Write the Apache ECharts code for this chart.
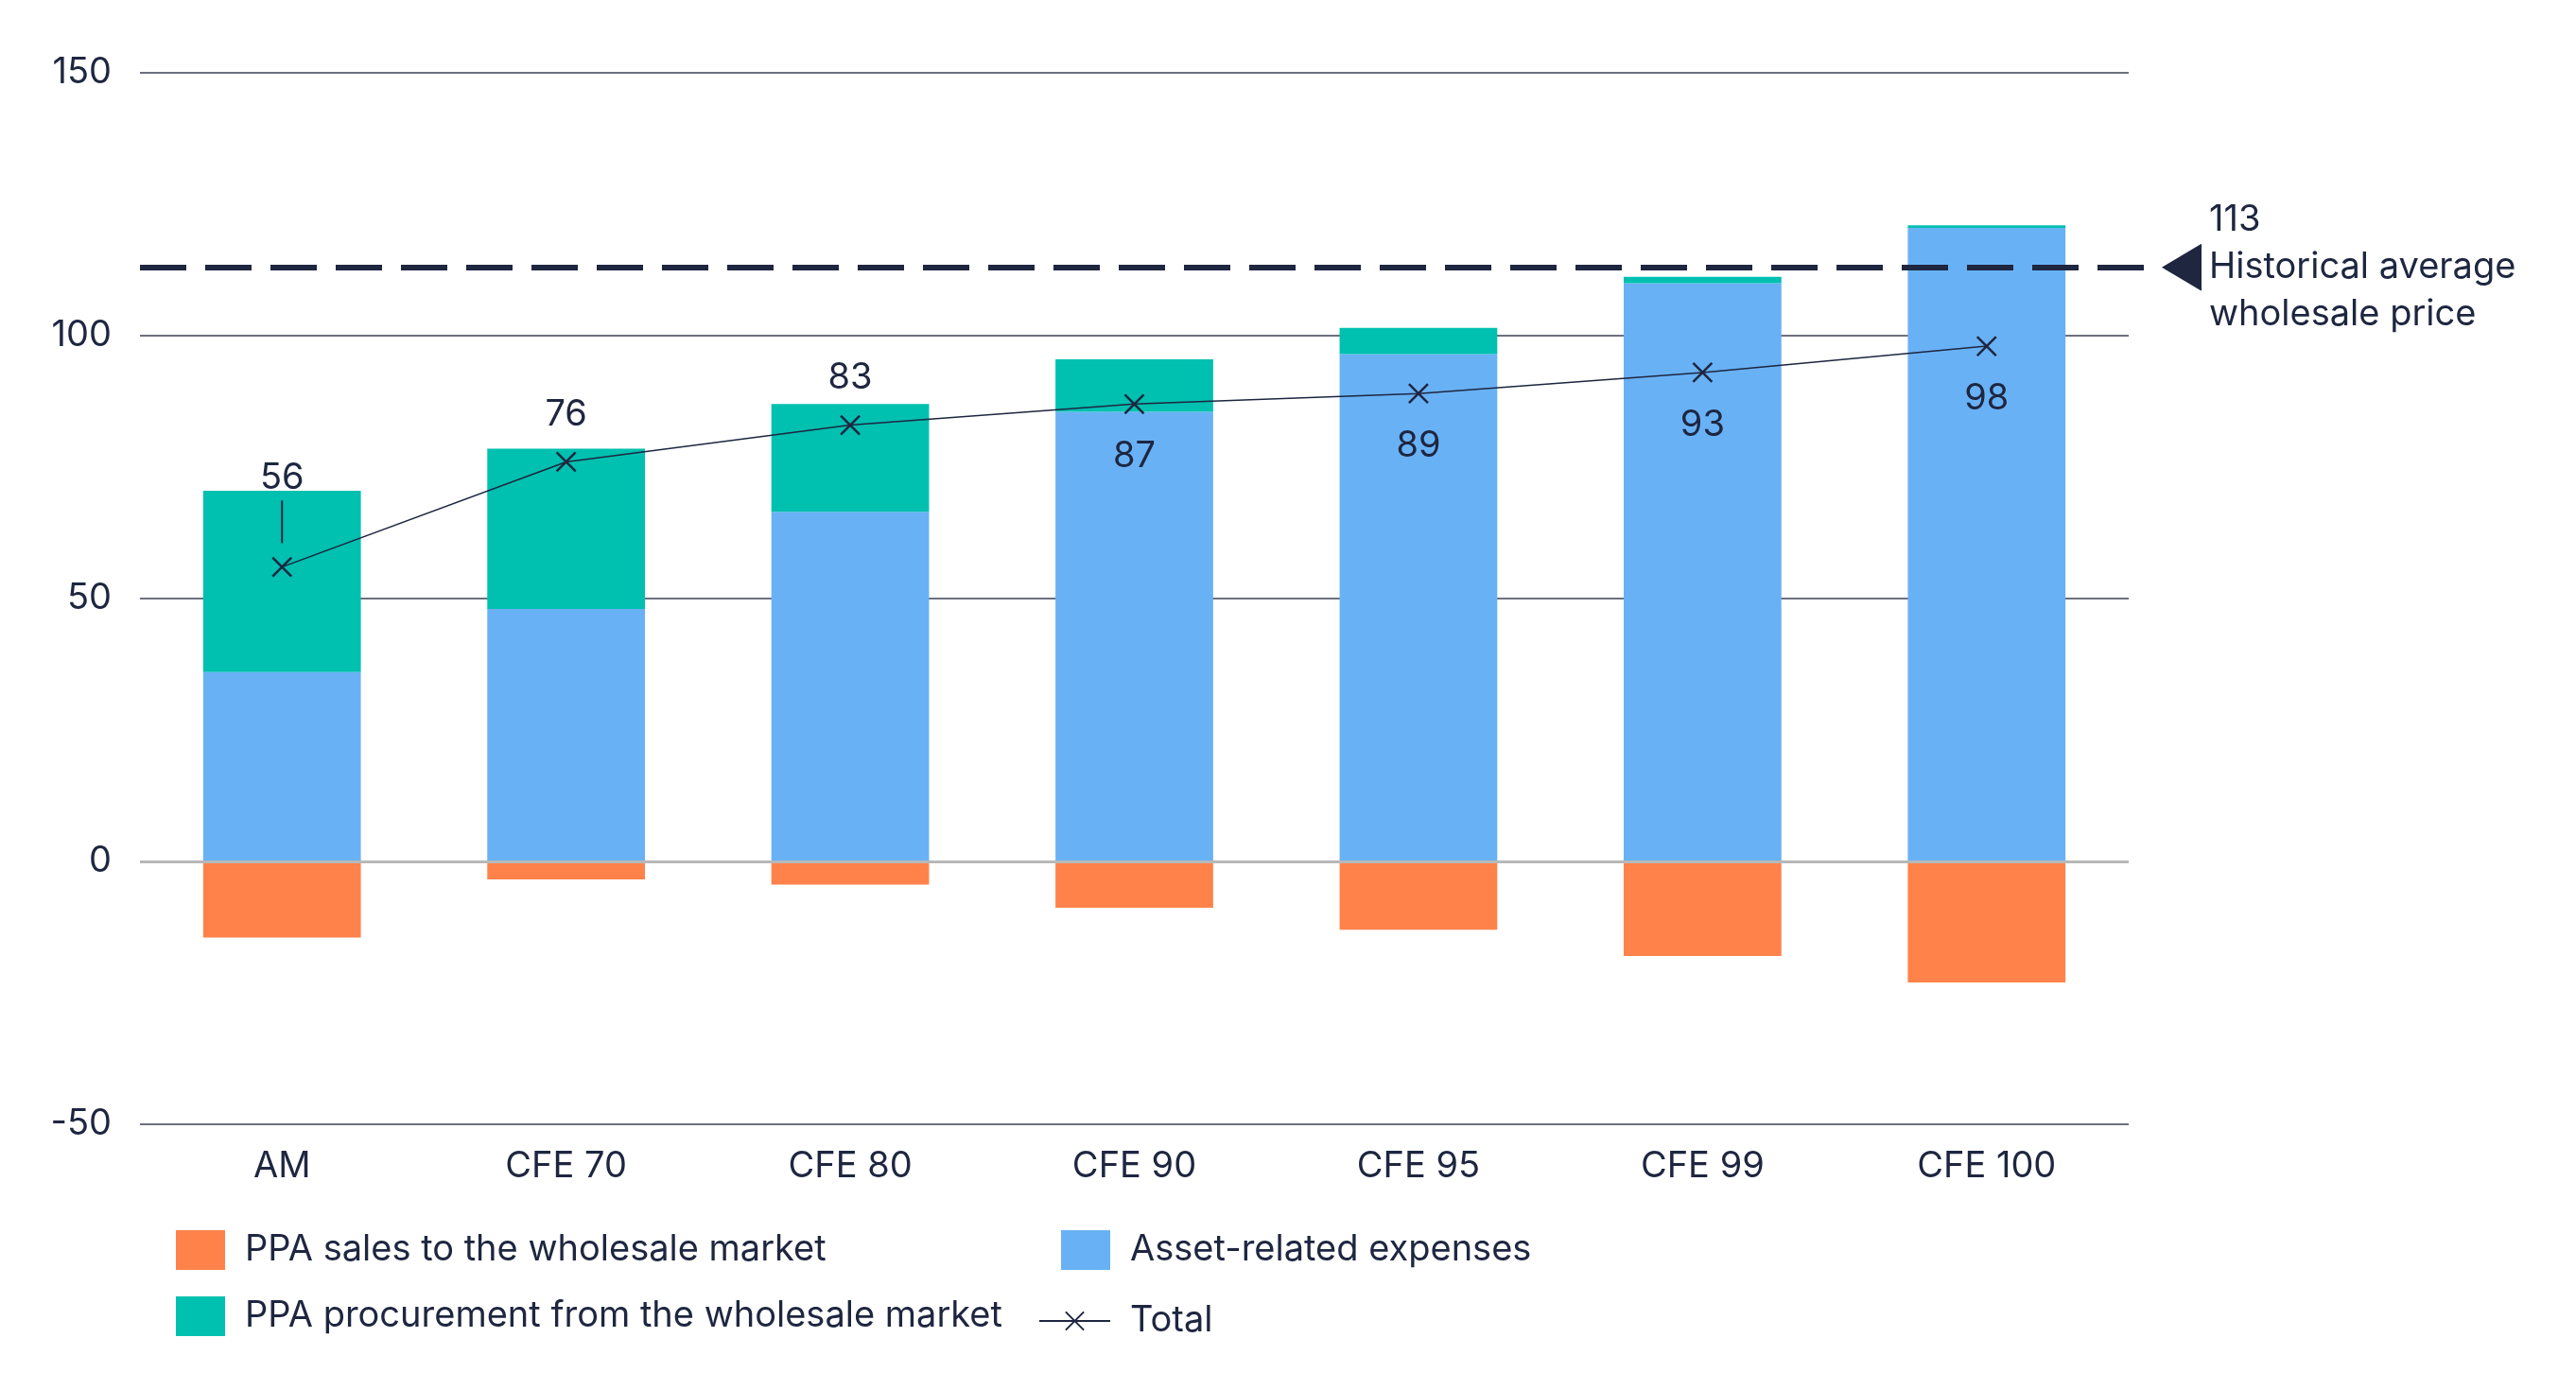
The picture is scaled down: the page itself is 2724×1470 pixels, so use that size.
<!DOCTYPE html>
<html>
<head>
<meta charset="utf-8">
<script src="https://cdn.jsdelivr.net/npm/echarts@6/dist/echarts.min.js"></script>
<style>
  html, body { margin: 0; padding: 0; background: #fff; }
  #chart { width: 2724px; height: 1470px; }
</style>
</head>
<body>
<div id="chart"></div>
<script>
const categories = ['AM', 'CFE 70', 'CFE 80', 'CFE 90', 'CFE 95', 'CFE 99', 'CFE 100']
const assetExpenses = [36, 48, 66.5, 85.5, 96.5, 110, 120.5]
const ppaProcurement = [34.5, 30.5, 20.5, 10, 5, 1.2, 0.5]
const ppaSales = [-14.5, -3.4, -4.4, -8.8, -13, -18, -23]
const totals = [56, 76, 83, 87, 89, 93, 98]
const historicalAvg = 113
// labels of the first three points sit above the line, the rest below
const labelAbove = [true, true, true, false, false, false, false]

const navy = '#1e2640'
const font = 'Inter'

// left pointing triangle for the historical average note
const triangleImg = 'data:image/svg+xml;utf8,' + encodeURIComponent(
    '<svg xmlns="http://www.w3.org/2000/svg" width="42" height="50" viewBox="0 0 42 50">' +
    '<path d="M0,25L42,0L42,50Z" fill="' + navy + '"/></svg>')

const legendBase = {
    padding: 0,
    icon: 'rect',
    itemWidth: 52,
    itemHeight: 42,
    textStyle: {
        fontSize: 38,
        color: navy,
        fontFamily: font,
        padding: [0, 0, 0, 16]
    }
}

const option = {
    animation: false,
    backgroundColor: '#fff',
    textStyle: { fontFamily: font },
    grid: {
        left: 148,
        right: 473,
        top: 77,
        bottom: 281
    },
    legend: [
        Object.assign({}, legendBase, { left: 186, top: 1301, data: ['PPA sales to the wholesale market'] }),
        Object.assign({}, legendBase, { left: 1122, top: 1301, data: ['Asset-related expenses'] }),
        Object.assign({}, legendBase, { left: 186, top: 1371, data: ['PPA procurement from the wholesale market'] }),
        Object.assign({}, legendBase, { left: 1098, top: 1378, icon: null, itemWidth: 75, itemHeight: 24, data: ['Total'] })
    ],
    xAxis: {
        type: 'category',
        data: categories,
        axisLine: { show: false },
        axisTick: { show: false },
        axisLabel: {
            margin: 26,
            fontSize: 38,
            color: navy,
            fontFamily: font
        }
    },
    yAxis: {
        type: 'value',
        min: -50,
        max: 150,
        interval: 50,
        axisLine: { show: false },
        axisTick: { show: false },
        axisLabel: {
            margin: 30,
            fontSize: 38,
            color: navy,
            fontFamily: font
        },
        splitLine: {
            lineStyle: { color: '#3b4052', width: 1.5 }
        }
    },
    series: [
        {
            name: 'Asset-related expenses',
            type: 'bar',
            stack: 'cost',
            barWidth: '55.5%',
            itemStyle: { color: '#69b1f5' },
            data: assetExpenses
        },
        {
            name: 'PPA procurement from the wholesale market',
            type: 'bar',
            stack: 'cost',
            itemStyle: { color: '#00c0b0' },
            data: ppaProcurement
        },
        {
            name: 'PPA sales to the wholesale market',
            type: 'bar',
            stack: 'cost',
            itemStyle: { color: '#ff824b' },
            data: ppaSales
        },
        {
            name: 'Total',
            type: 'line',
            z: 5,
            symbol: 'path://M0,0L20,20M20,0L0,20',
            symbolSize: 20,
            lineStyle: { color: navy, width: 1.5 },
            itemStyle: { color: navy, borderColor: navy, borderWidth: 2.5 },
            label: {
                show: true,
                fontSize: 38,
                color: navy,
                fontFamily: font
            },
            data: totals.map((v, i) => {
                const item = {
                    value: v,
                    label: { position: labelAbove[i] ? 'top' : 'bottom', distance: labelAbove[i] ? 20 : 25 }
                }
                if (i === 0) {
                    // value with a short leader line down to the point
                    item.label.distance = 14
                    item.label.formatter = '{v|{c}}\n{bar|}'
                    item.label.rich = {
                        v: { fontSize: 38, color: navy, fontFamily: font, lineHeight: 48 },
                        bar: { width: 2, height: 45, backgroundColor: navy }
                    }
                }
                return item
            }),
            markLine: {
                silent: true,
                symbol: ['none', 'none'],
                animation: false,
                data: [
                    {
                        yAxis: 0,
                        lineStyle: { color: '#b8b8b8', width: 3, type: 'solid' },
                        label: { show: false }
                    },
                    [
                        {
                            yAxis: historicalAvg,
                            x: 148,
                            lineStyle: { color: navy, width: 6, type: [49, 20] },
                            label: {
                                show: true,
                                position: 'end',
                                distance: 10,
                                formatter: '{a|' + historicalAvg + '}\n{tri|}{b|Historical average}\n{a|wholesale price}',
                                rich: {
                                    a: { fontSize: 38, color: navy, fontFamily: font, lineHeight: 50, padding: [0, 0, 0, 50] },
                                    b: { fontSize: 38, color: navy, fontFamily: font, lineHeight: 50, padding: [0, 0, 0, 8] },
                                    tri: { width: 42, height: 50, backgroundColor: { image: triangleImg } }
                                }
                            }
                        },
                        { yAxis: historicalAvg, x: 2276 }
                    ]
                ]
            }
        }
    ]
}

const chart = echarts.init(document.getElementById('chart'))
chart.setOption(option)
</script>
</body>
</html>
